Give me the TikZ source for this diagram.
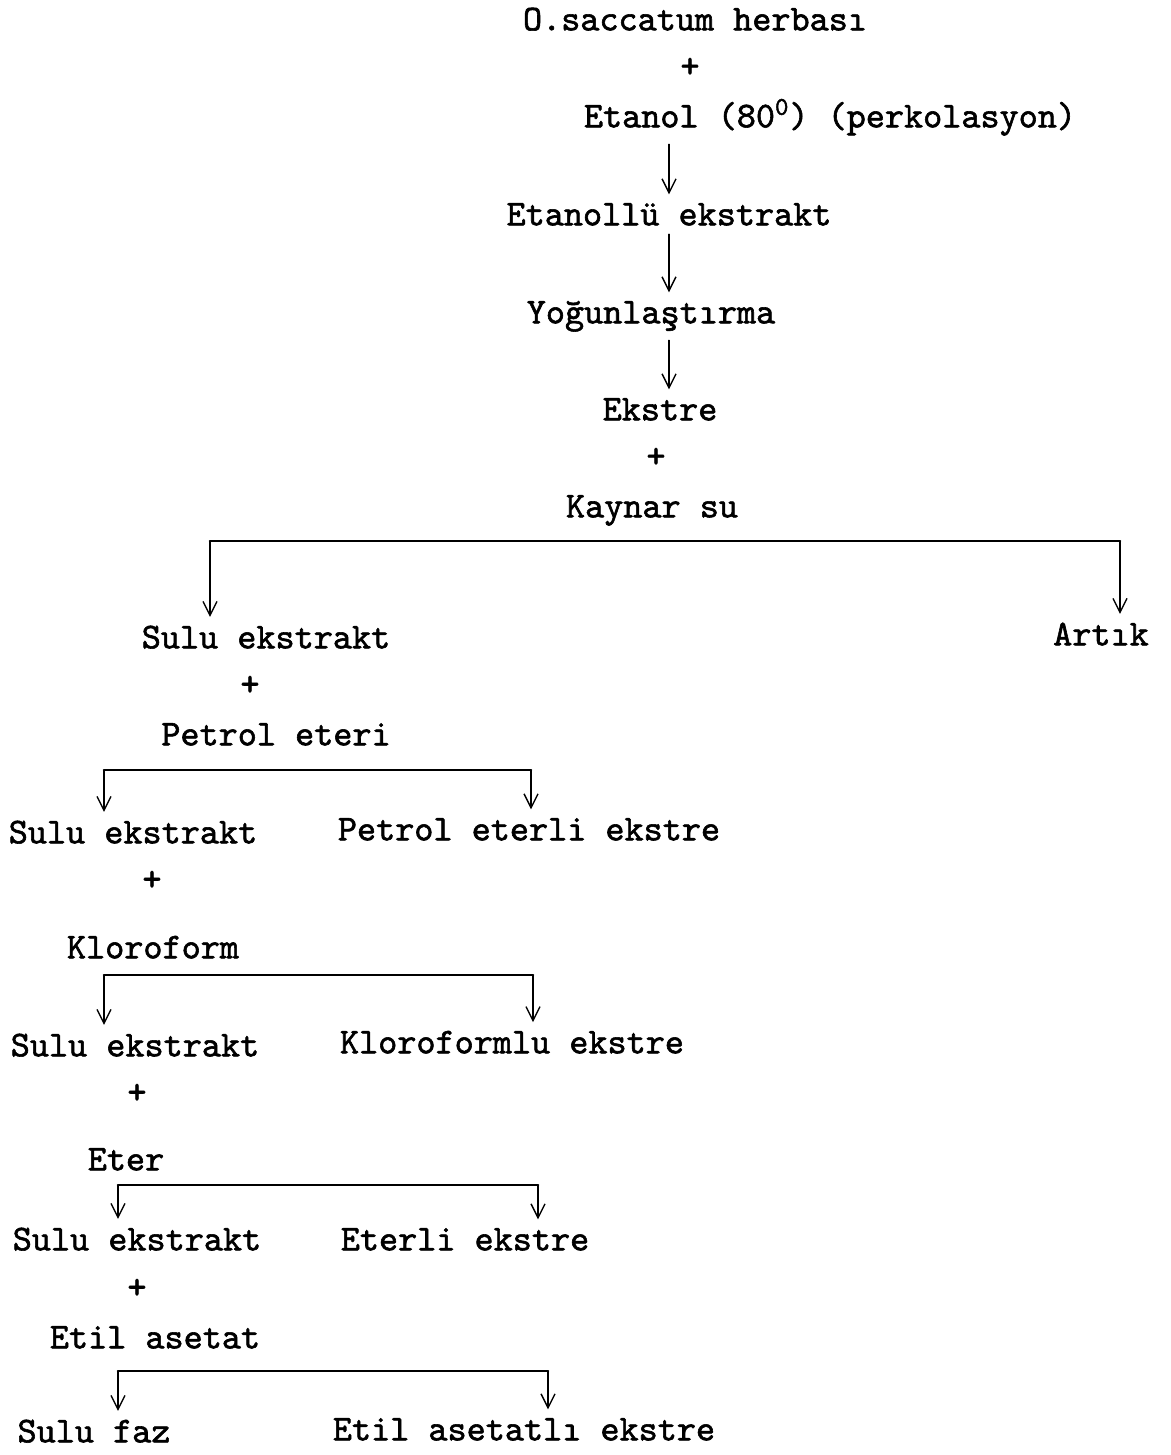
\documentclass[tikz,border=0pt]{standalone}
\usepackage{fontspec}
\setmonofont[FakeBold=1.6,AutoFakeBold=1.6]{lmmono10-regular.otf}
\usetikzlibrary{arrows.meta}

\tikzset{
  flow/.style={font=\ttfamily\fontsize{18.2}{22}\selectfont,inner sep=4pt,anchor=mid},
  bar/.style={line width=1.3pt},
}

\begin{document}
\begin{tikzpicture}[x=0.5pt,y=-0.5pt,>={Straight Barb[length=7pt,width=7pt]},line width=0.7pt,line cap=round,every node/.style={flow}]
  \useasboundingbox (0,0) rectangle (1171,1455);
  % main column
  \node (herba) at (695,26) {O.saccatum herbası};
  \node (plus1) at (690,73) {+};
  \node (etanol) at (830,123) {Etanol (80\textsuperscript{0}) (perkolasyon)};
  \node (etanollu) at (669,221) {Etanollü ekstrakt};
  \node (yogun) at (651,319) {Yoğunlaştırma};
  \node (ekstre) at (660,416) {Ekstre};
  \node (plus2) at (656,463) {+};
  \node (kaynar) at (652,513) {Kaynar su};
  \draw[->] (etanollu.north |- etanol.south) -- (etanollu.north);
  \draw[->] (etanollu.south) -- (etanollu.south |- yogun.north);
  \draw[->] (yogun.south -| etanollu) -- (ekstre.north -| etanollu);
  % first split
  \node (sulu1) at (266,644) {Sulu ekstrakt};
  \node (artik) at (1101,641) {Artık};
  \coordinate (b1l) at (210,541);
  \coordinate (b1r) at (1120,541);
  \draw[bar] (b1l) -- (b1r);
  \draw[->] (b1l) -- (b1l |- sulu1.north);
  \draw[->] (b1r) -- (b1r |- artik.north);
  \node (plus3) at (250,691) {+};
  \node (petrol) at (276,741) {Petrol eteri};
  % petrol eteri
  \node (sulu2) at (133,839) {Sulu ekstrakt};
  \node (petrolex) at (529,836) {Petrol eterli ekstre};
  \coordinate (b2l) at (104,770);
  \coordinate (b2r) at (531,770);
  \draw[bar] (b2l) -- (b2r);
  \draw[->] (b2l) -- (b2l |- sulu2.north);
  \draw[->] (b2r) -- (b2r |- petrolex.north);
  \node (plus4) at (152,886) {+};
  \node (kloro) at (153,954) {Kloroform};
  % kloroform
  \node (sulu3) at (135,1052) {Sulu ekstrakt};
  \node (kloroex) at (512,1049) {Kloroformlu ekstre};
  \coordinate (b3l) at (104,975);
  \coordinate (b3r) at (533,975);
  \draw[bar] (b3l) -- (b3r);
  \draw[->] (b3l) -- (b3l |- sulu3.north);
  \draw[->] (b3r) -- (b3r |- kloroex.north);
  \node (plus5) at (137,1099) {+};
  \node (eter) at (126,1166) {Eter};
  % eter
  \node (sulu4) at (137,1246) {Sulu ekstrakt};
  \node (eterex) at (465,1246) {Eterli ekstre};
  \coordinate (b4l) at (118,1185);
  \coordinate (b4r) at (538,1185);
  \draw[bar] (b4l) -- (b4r);
  \draw[->] (b4l) -- (b4l |- sulu4.north);
  \draw[->] (b4r) -- (b4r |- eterex.north);
  \node (plus6) at (137,1294) {+};
  \node (etil) at (155,1344) {Etil asetat};
  % etil asetat
  \node (suluf) at (94,1438) {Sulu faz};
  \node (etilex) at (524,1436) {Etil asetatlı ekstre};
  \coordinate (b5l) at (118,1371);
  \coordinate (b5r) at (548,1371);
  \draw[bar] (b5l) -- (b5r);
  \draw[->] (b5l) -- (b5l |- suluf.north);
  \draw[->] (b5r) -- (b5r |- etilex.north);
\end{tikzpicture}
\end{document}
